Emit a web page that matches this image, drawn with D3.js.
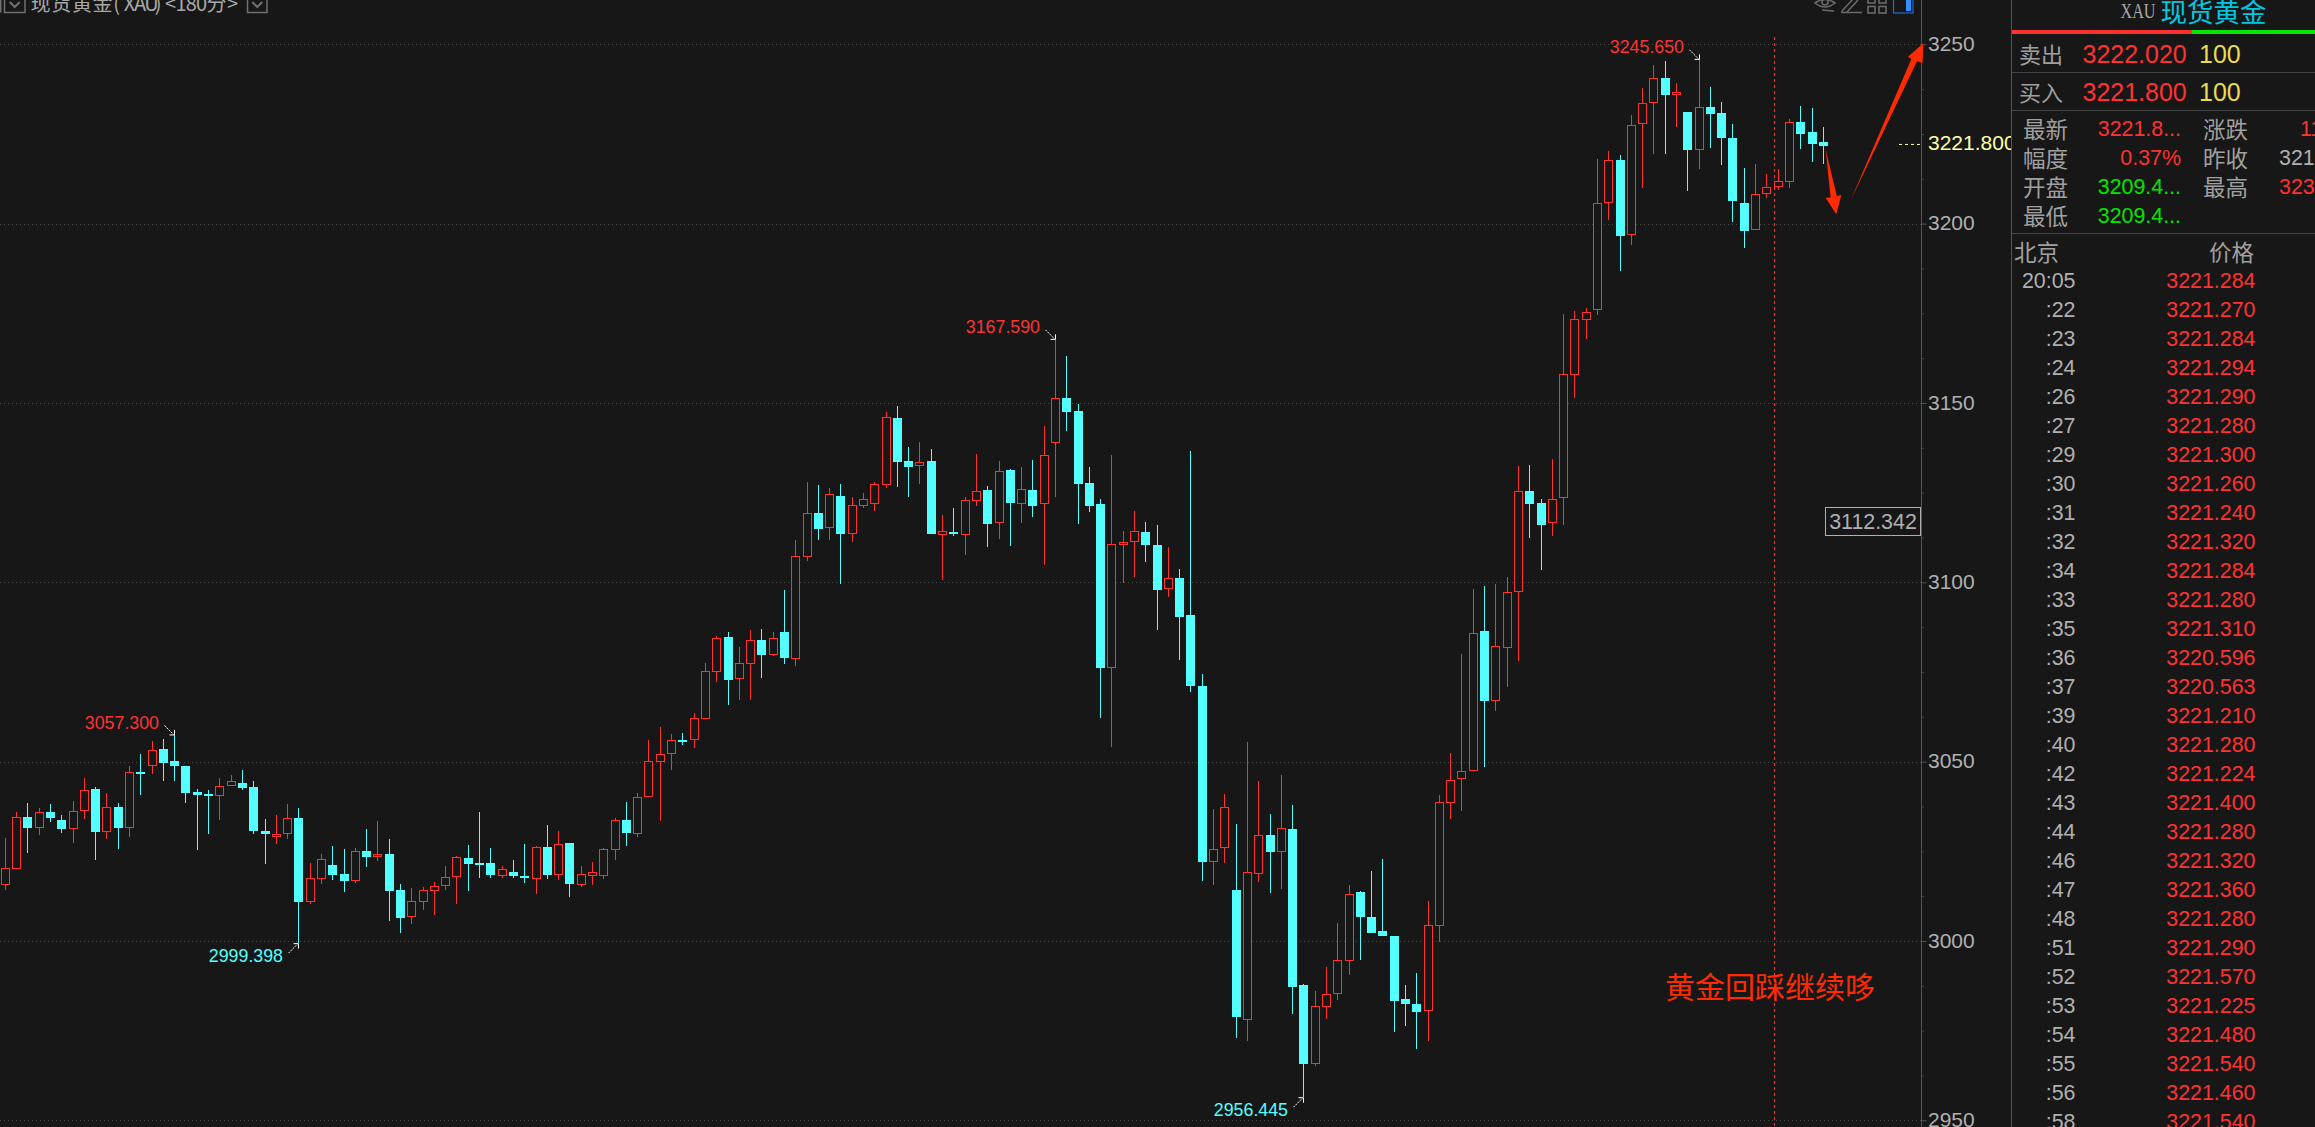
<!DOCTYPE html>
<html><head><meta charset="utf-8">
<script src="https://cdn.jsdelivr.net/npm/d3@7/dist/d3.min.js"></script>
<style>html,body{margin:0;padding:0;background:#171717;overflow:hidden}svg{display:block}</style>
</head><body><svg id="c" width="2315" height="1127"></svg>
<script>
const opens=[3015.7,3020.0,3034.6,3031.6,3036.0,3033.7,3031.3,3036.1,3042.4,3030.5,
3037.4,3031.6,3047.2,3048.9,3053.5,3050.2,3048.8,3041.5,3041.0,3040.5,
3043.3,3044.1,3043.0,3030.7,3029.0,3029.7,3034.3,3011.0,3017.4,3021.2,
3018.7,3016.8,3025.1,3023.8,3024.3,3014.2,3006.8,3011.0,3014.0,3015.2,
3017.7,3023.2,3021.8,3021.8,3018.2,3019.2,3018.1,3017.4,3026.2,3018.5,
3027.3,3015.7,3018.2,3018.2,3025.5,3033.7,3029.7,3040.0,3050.0,3052.2,
3056.0,3055.9,3062.0,3075.1,3084.8,3072.9,3077.3,3083.9,3079.6,3086.2,
3078.7,3107.0,3119.3,3115.0,3124.1,3113.6,3121.4,3121.9,3127.2,3145.8,
3133.8,3132.3,3133.8,3113.3,3114.0,3113.3,3122.8,3125.8,3116.5,3131.3,
3121.7,3125.8,3121.7,3138.9,3151.4,3147.8,3127.7,3121.8,3076.2,3110.5,
3111.3,3114.0,3110.4,3098.2,3101.2,3090.9,3071.1,3021.9,3025.8,3014.2,
2978.1,3018.8,3029.6,3024.9,3031.2,2987.8,2965.8,2981.7,2985.3,2994.5,
3013.7,3006.7,3002.8,3001.4,2983.8,2982.4,2980.6,3004.3,3038.4,3045.1,
3047.3,3086.4,3067.0,3081.8,3097.4,3125.5,3122.1,3116.6,3123.6,3157.9,
3173.1,3175.8,3205.7,3217.8,3196.7,3227.7,3233.7,3240.6,3235.8,3231.1,
3220.6,3232.5,3230.9,3223.9,3205.8,3198.1,3208.2,3210.3,3211.7,3228.3,3225.6,3222.8];
const closes=[3020.3,3034.5,3031.5,3035.9,3034.3,3031.2,3036.2,3042.0,3030.4,3037.3,
3031.5,3047.0,3046.7,3053.2,3049.6,3048.8,3041.3,3040.7,3040.4,3043.1,
3044.5,3042.7,3030.7,3029.8,3029.8,3034.2,3010.9,3017.5,3022.8,3018.4,
3016.7,3025.0,3023.4,3024.2,3014.0,3006.4,3011.1,3014.1,3015.3,3017.8,
3023.3,3021.5,3021.2,3018.4,3020.0,3018.1,3017.6,3026.1,3018.4,3027.0,
3015.9,3018.6,3019.2,3025.6,3033.7,3030.1,3040.1,3050.1,3052.0,3056.0,
3055.5,3062.1,3075.2,3084.4,3072.8,3077.4,3083.8,3079.7,3084.4,3078.9,
3107.3,3119.2,3114.9,3124.5,3113.5,3121.5,3123.1,3127.3,3146.0,3133.6,
3132.2,3133.5,3113.5,3114.2,3113.5,3122.9,3125.4,3116.3,3131.0,3122.1,
3125.9,3121.3,3135.4,3151.3,3147.5,3127.4,3121.3,3076.1,3110.6,3111.3,
3114.2,3110.4,3097.9,3101.1,3090.3,3071.1,3021.9,3025.6,3037.3,2978.8,
3019.2,3029.5,3024.8,3031.4,2987.2,2965.7,2981.8,2985.2,2994.6,3013.0,
3006.7,3002.2,3001.4,2983.3,2982.4,2980.2,3004.4,3038.7,3044.8,3047.3,
3086.0,3066.9,3082.2,3097.2,3125.4,3121.8,3116.0,3123.1,3158.0,3173.3,
3175.3,3205.7,3217.7,3196.6,3227.4,3233.6,3240.5,3235.9,3236.6,3220.5,
3232.4,3230.6,3223.9,3206.3,3198.0,3208.2,3210.1,3211.8,3228.3,3225.0,3222.2,3221.7];
const highs=[3028.6,3036.0,3038.5,3037.1,3038.2,3035.1,3039.0,3045.5,3043.0,3041.3,
3038.5,3048.8,3052.2,3055.8,3056.3,3057.3,3048.8,3042.4,3042.1,3045.5,
3046.3,3047.7,3044.6,3034.0,3035.1,3038.2,3037.1,3021.8,3024.3,3026.5,
3025.7,3025.9,3031.2,3033.5,3028.5,3015.9,3014.8,3015.1,3016.5,3020.9,
3023.7,3026.8,3036.0,3025.9,3020.9,3022.6,3027.0,3026.5,3032.3,3030.7,
3027.3,3020.9,3022.0,3025.9,3034.3,3038.8,3041.3,3056.0,3059.7,3057.7,
3058.0,3063.6,3077.5,3085.0,3086.2,3082.0,3086.7,3087.0,3086.2,3097.9,
3111.8,3128.0,3127.1,3126.3,3127.4,3123.8,3124.9,3128.0,3147.5,3149.2,
3137.7,3139.1,3137.2,3118.8,3120.7,3123.8,3135.8,3126.9,3133.8,3131.6,
3132.2,3134.1,3143.6,3167.59,3163.1,3149.7,3132.2,3123.2,3135.5,3114.3,
3119.9,3116.8,3116.0,3109.9,3103.7,3136.6,3074.5,3036.8,3041.0,3032.6,
3055.5,3044.6,3035.4,3046.3,3037.9,2988.0,2986.1,2992.8,3005.0,3015.6,
3014.0,3019.5,3022.9,3001.4,2987.8,2991.1,3011.2,3040.7,3052.4,3080.0,
3098.0,3099.0,3099.5,3101.5,3132.4,3132.7,3123.2,3134.4,3174.8,3175.6,
3176.5,3218.0,3220.3,3219.1,3230.3,3237.8,3244.2,3245.4,3239.2,3231.1,
3245.65,3238.1,3233.9,3227.8,3215.5,3216.6,3213.8,3215.2,3229.2,3232.8,3232.2,3227.0];
const lows=[3014.2,3020.0,3024.5,3029.6,3033.2,3030.1,3027.3,3034.0,3022.6,3028.5,
3025.7,3029.0,3040.7,3046.6,3044.6,3044.6,3038.5,3025.4,3029.8,3033.7,
3043.2,3042.1,3029.8,3021.5,3027.1,3028.5,2999.398,3010.3,3015.9,3017.0,
3013.7,3016.2,3020.6,3022.3,3005.6,3002.2,3004.8,3008.7,3007.3,3014.2,
3010.3,3014.0,3017.6,3017.6,3017.6,3017.6,3016.2,3013.1,3017.3,3017.0,
3012.3,3015.1,3015.6,3017.3,3022.6,3026.5,3029.0,3040.0,3033.5,3047.7,
3054.7,3053.8,3061.9,3072.2,3065.8,3067.2,3067.2,3073.3,3079.5,3077.2,
3076.7,3105.8,3111.8,3111.8,3099.5,3111.3,3120.7,3119.9,3126.3,3126.6,
3123.8,3127.4,3113.5,3100.7,3112.9,3107.6,3121.3,3109.9,3112.1,3110.1,
3116.6,3118.2,3104.8,3123.8,3142.2,3116.3,3119.6,3062.2,3054.1,3099.8,
3101.5,3105.7,3086.7,3095.9,3078.4,3069.4,3016.7,3015.6,3021.8,2973.0,
2972.1,3016.5,3013.4,3014.5,2979.7,2956.445,2965.2,2978.3,2983.6,2990.5,
2994.7,3002.2,3001.4,2974.6,2976.3,2969.9,2972.1,2999.7,3034.0,3036.3,
3047.3,3048.6,3064.1,3070.8,3078.1,3112.4,3103.4,3112.9,3116.0,3151.4,
3167.8,3174.4,3201.0,3186.8,3194.1,3209.9,3219.4,3219.4,3227.0,3209.1,
3215.2,3221.1,3216.4,3200.5,3193.2,3198.1,3207.2,3209.4,3209.9,3220.8,3217.2,3216.6];

const majorTicks=[2950,3000,3050,3100,3150,3200,3250];
const minorTicks=[2962.5,2975,2987.5,3012.5,3025,3037.5,3062.5,3075,3087.5,3112.5,3125,3137.5,3162.5,3175,3187.5,3212.5,3225,3237.5];
const extremes=[{i:15,v:3057.300,up:true,t:"3057.300"},{i:26,v:2999.398,up:false,t:"2999.398"},{i:93,v:3167.590,up:true,t:"3167.590"},{i:115,v:2956.445,up:false,t:"2956.445"},{i:150,v:3245.650,up:true,t:"3245.650"}];
const lastPrice=3221.8, cursorPrice="3112.342", cursorLevel=3116.7, sessionIndex=156.7;
const titleText="现货黄金(XAU)<180分>", note="黄金回踩继续哆";
const downArrow=[[161.2,3220.8],[161.65,3207.3],[161.2,3207.2],[162.15,3202.6],[162.6,3208.0],[162.2,3207.7]];
const upArrow=[[163.4,3206.3],[168.8,3245.9],[168.5,3246.5],[169.85,3250.3],[169.8,3244.8],[169.3,3245.3]];
const quoteLabels=["卖出","买入"], quotePrices=["3222.020","3221.800"], quoteSizes=["100","100"];
const statLabelsL=["最新","幅度","开盘","最低"], statValuesL=["3221.8...","0.37%","3209.4...","3209.4..."];
const statLabelsR=["涨跌","昨收","最高"], statValuesR=["11","321","323"];
const tickTimes=["20:05",":22",":23",":24",":26",":27",":29",":30",":31",":32",":34",":33",":35",":36",":37",":39",":40",":42",":43",":44",":46",":47",":48",":51",":52",":53",":54",":55",":56",":58"];
const tickPrices=["3221.284","3221.270","3221.284","3221.294","3221.290","3221.280","3221.300","3221.260","3221.240","3221.320","3221.284","3221.280","3221.310","3220.596","3220.563","3221.210","3221.280","3221.224","3221.400","3221.280","3221.320","3221.360","3221.280","3221.290","3221.570","3221.225","3221.480","3221.540","3221.460","3221.540"];

const RED="#ff3232",TEAL="#54ffff",GREY="#b0b0b0",CJKG="#a0a0a0",GREEN="#00e600",YEL="#e8dc50",ARROW="#ff2a00";
const SANS="'Liberation Sans',Arial,sans-serif", CJK="'Noto Sans CJK SC',sans-serif";
const svg=d3.select("#c");
svg.append("rect").attr("width",2315).attr("height",1127).attr("fill","#171717");
const x=d3.scaleLinear().domain([0,161]).range([5.33,1823.3]);
const y=d3.scaleLinear().domain([2950,3250]).range([1120.3,44.3]);
const candles=opens.map((o,i)=>({i,o,c:closes[i],h:highs[i],l:lows[i],up:closes[i]>=o}));

// grid
svg.append("g").selectAll("line").data(majorTicks).join("line")
 .attr("x1",0).attr("x2",1921).attr("y1",d=>Math.round(y(d))+.5).attr("y2",d=>Math.round(y(d))+.5)
 .attr("stroke","#4a4a4a").attr("stroke-dasharray","1,3");

// session line
svg.append("line").attr("x1",Math.floor(x(sessionIndex))+.5).attr("x2",Math.floor(x(sessionIndex))+.5).attr("y1",37).attr("y2",1127)
 .attr("stroke",RED).attr("stroke-dasharray","3,3");

// candles
const g=svg.append("g").attr("shape-rendering","crispEdges");
const px=d=>Math.floor(x(d.i));
g.selectAll(".w").data(candles).join("rect").attr("class","w")
 .attr("x",px).attr("width",1)
 .attr("y",d=>Math.round(y(d.h))).attr("height",d=>Math.max(1,Math.round(y(d.l))-Math.round(y(d.h))))
 .attr("fill",d=>d.up?RED:TEAL);
g.selectAll(".b").data(candles).join("rect").attr("class","b")
 .each(function(d){
  const t=Math.round(y(Math.max(d.o,d.c))),b=Math.round(y(Math.min(d.o,d.c)));
  const s=d3.select(this);
  if(d.up) s.attr("x",px(d)-4+.5).attr("y",t+.5).attr("width",8).attr("height",Math.max(b-t-1,2))
    .attr("fill","#171717").attr("stroke",RED).attr("stroke-width",1);
  else s.attr("x",px(d)-4).attr("y",t).attr("width",9).attr("height",Math.max(b-t,2)).attr("fill",TEAL);
 });

// extreme labels
const ex=svg.append("g");
extremes.forEach(e=>{
 const cx=Math.floor(x(e.i))+.5, ty=y(e.v), s=e.up?-1:1;
 ex.append("text").attr("x",cx-15.5).attr("y",ty+s*12.8).attr("text-anchor","end").attr("dominant-baseline","central")
  .attr("font-family",SANS).attr("font-size",17.8).attr("fill",e.up?RED:TEAL).text(e.t);
 ex.append("line").attr("x1",cx-10).attr("y1",ty+s*10).attr("x2",cx-1).attr("y2",ty+s*1).attr("stroke","#fff").attr("stroke-dasharray","2,1");
 ex.append("path").attr("d",`M${cx-5},${ty+s*.5}H${cx}V${ty+s*5.5}`).attr("fill","none").attr("stroke","#fff");
});

// axis
const axisG=svg.append("g").attr("transform","translate(1921.5,0)");
const axis=d3.axisRight(y).tickValues(majorTicks.concat(minorTicks)).tickSize(3).tickFormat(d=>majorTicks.includes(d)?d3.format("d")(d):"");
axisG.call(axis);
axisG.select(".domain").attr("d","M0,0V1127").attr("stroke","#555");
axisG.selectAll(".tick line").attr("stroke","#555").attr("x2",d=>majorTicks.includes(d)?5:2);
axisG.selectAll(".tick text").attr("x",6.5).attr("dy",".29em").attr("font-family",SANS).attr("font-size",21).attr("fill",GREY);

// last price
const lp=svg.append("g");
lp.append("line").attr("x1",1899).attr("x2",1920).attr("y1",y(lastPrice)-1).attr("y2",y(lastPrice)-1).attr("stroke","#ffffa8").attr("stroke-dasharray","3,3");
lp.append("defs").append("clipPath").attr("id","cp").append("rect").attr("x",1922).attr("y",100).attr("width",89).attr("height",80);
lp.append("text").attr("x",1928).attr("y",y(lastPrice)-2).attr("dy",".3em").attr("clip-path","url(#cp)")
 .attr("font-family",SANS).attr("font-size",21).attr("fill","#ffffa8").text(d3.format(".3f")(lastPrice));

// cursor box
const cy=Math.round(y(cursorLevel));
svg.append("rect").attr("x",1825.5).attr("y",cy-14.5).attr("width",95).attr("height",28).attr("fill","#171717").attr("stroke","#b0b0b0");
svg.append("text").attr("x",1873).attr("y",cy).attr("dy",".33em").attr("text-anchor","middle").attr("font-family",SANS).attr("font-size",21.4).attr("fill",GREY).text(cursorPrice);

// arrows
const pt=p=>p.map(d=>[x(d[0]),y(d[1])]);
[downArrow,upArrow].forEach(a=>svg.append("path").attr("d",d3.line()(pt(a))+"Z").attr("fill",ARROW));

// note
svg.append("text").attr("x",1665).attr("y",987).attr("dy",".35em").attr("font-family",CJK).attr("font-size",30).attr("fill",ARROW).text(note);

// title bar
const tb=svg.append("g");
let cursorX=30.5; const xs=[];
Array.from(titleText).forEach(ch=>{xs.push(cursorX.toFixed(1));cursorX+=ch.charCodeAt(0)>255?20.7:10.35;});
tb.append("text").attr("x",xs.join(" ")).attr("y",11).attr("font-family",CJK).attr("font-size",20).attr("fill","#a8a8a8").text(titleText);
[[4.5,25],[247.5,267]].forEach(b=>{
 tb.append("path").attr("d",`M${b[0]},-1V12.5H${b[1]}V-1`).attr("fill","none").attr("stroke","#707070").attr("stroke-width",1.5);
 const m=(b[0]+b[1])/2;
 tb.append("path").attr("d",`M${m-5},2L${m},7L${m+5},2`).attr("fill","none").attr("stroke","#707070").attr("stroke-width",2);
});
tb.append("rect").attr("x",0).attr("y",0).attr("width",1.5).attr("height",12.5).attr("fill","#707070");

// top icons
const ic=svg.append("g").attr("fill","none").attr("stroke","#6a6a6a").attr("stroke-width",1.6);
ic.append("path").attr("d","M1815,3Q1825,-4 1835,3Q1825,11 1815,3Z");
ic.append("circle").attr("cx",1825).attr("cy",2).attr("r",3);
ic.append("path").attr("d","M1822,10L1834,11");
ic.append("path").attr("d","M1842,11L1853,-1M1847,12L1858,0M1842,11V12.5H1862");
ic.append("rect").attr("x",1868).attr("y",-3).attr("width",7).attr("height",6);
ic.append("rect").attr("x",1879).attr("y",-3).attr("width",7).attr("height",6);
ic.append("rect").attr("x",1868).attr("y",6.5).attr("width",7).attr("height",6.5);
ic.append("rect").attr("x",1879).attr("y",6.5).attr("width",7).attr("height",6.5);
svg.append("rect").attr("x",1893.5).attr("y",-2).attr("width",19.5).attr("height",15).attr("fill","none").attr("stroke","#1f6fd0").attr("stroke-width",1.2);
svg.append("rect").attr("x",1906).attr("y",0).attr("width",5).attr("height",11).attr("fill","#2f8fff");

// right panel
const p=svg.append("g");
p.append("line").attr("x1",2011.5).attr("x2",2011.5).attr("y1",0).attr("y2",1127).attr("stroke","#555");
[72.5,110.5,233.5].forEach(v=>p.append("line").attr("x1",2012).attr("x2",2315).attr("y1",v).attr("y2",v).attr("stroke","#444"));
p.append("rect").attr("x",2012).attr("y",30).attr("width",180).attr("height",4).attr("fill",RED);
p.append("rect").attr("x",2192).attr("y",30).attr("width",123).attr("height",4).attr("fill",GREEN);
const T=(a,xx,yy,t,fill,size,font,anchor)=>a.append("text").attr("x",xx).attr("y",yy-(font===CJK?2:1.2)).attr("font-family",font||SANS).attr("font-size",size).attr("fill",fill).attr("text-anchor",anchor||"start").attr("dominant-baseline","central").text(t);
T(p,2120.5,12,"XAU","#a8a8a8",20,"'Liberation Serif',serif").attr("textLength",35).attr("lengthAdjust","spacingAndGlyphs");
T(p,2160.5,12,"现货黄金","#00c8e0",26.5,CJK);
quoteLabels.forEach((l,i)=>{const yy=i?93:55;
 T(p,2019,yy,l,CJKG,22,CJK);
 T(p,2082.5,yy,quotePrices[i],RED,25);
 T(p,2199,yy,quoteSizes[i],YEL,25);
});
const statY=[130,159,188.3,217.3], statCol=[RED,RED,GREEN,GREEN], statColR=[RED,GREY,RED];
statLabelsL.forEach((l,i)=>{T(p,2023,statY[i],l,CJKG,22.5,CJK);T(p,2181,statY[i],statValuesL[i],statCol[i],21.4,SANS,"end");});
statLabelsR.forEach((l,i)=>{T(p,2203,statY[i],l,CJKG,22.5,CJK);T(p,i?2279:2300,statY[i],statValuesR[i],statColR[i],21.4);});
T(p,2014,253,"北京",CJKG,22.5,CJK);
T(p,2209,253,"价格",CJKG,22.5,CJK);
const rowY=d3.scaleLinear().domain([0,29]).range([282.3,1123.3]);
tickTimes.forEach((t,i)=>{
 T(p,2075.5,rowY(i),t,GREY,21.4,SANS,"end");
 T(p,2255.5,rowY(i),tickPrices[i],RED,21.4,SANS,"end");
});
</script></body></html>
